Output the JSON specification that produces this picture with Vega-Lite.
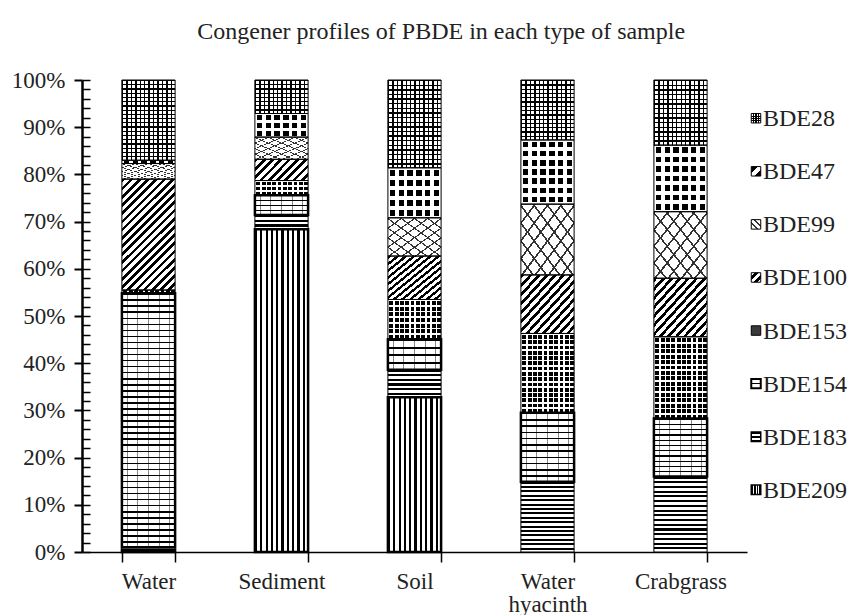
{
"$schema": "https://vega.github.io/schema/vega-lite/v6.json",
"padding": {"left": 11, "top": 20, "right": 0, "bottom": 5},
"title": {"text": "Congener profiles of PBDE in each type of sample", "anchor": "middle", "dx": 12, "font": "Times New Roman, Liberation Serif, Times, serif", "fontSize": 24, "fontWeight": "normal", "color": "#222", "offset": 25},
"spacing": 0,
"datasets": {
"pbde": [
{"sample":"Water","congener":"BDE209","num":209,"value":0.5},
{"sample":"Water","congener":"BDE183","num":183,"value":0.5},
{"sample":"Water","congener":"BDE154","num":154,"value":53.8},
{"sample":"Water","congener":"BDE153","num":153,"value":0.7},
{"sample":"Water","congener":"BDE100","num":100,"value":23.5},
{"sample":"Water","congener":"BDE99","num":99,"value":3.3},
{"sample":"Water","congener":"BDE47","num":47,"value":0.7},
{"sample":"Water","congener":"BDE28","num":28,"value":17.0},
{"sample":"Sediment","congener":"BDE209","num":209,"value":68.4},
{"sample":"Sediment","congener":"BDE183","num":183,"value":3.0},
{"sample":"Sediment","congener":"BDE154","num":154,"value":4.2},
{"sample":"Sediment","congener":"BDE153","num":153,"value":3.1},
{"sample":"Sediment","congener":"BDE100","num":100,"value":4.5},
{"sample":"Sediment","congener":"BDE99","num":99,"value":4.7},
{"sample":"Sediment","congener":"BDE47","num":47,"value":5.0},
{"sample":"Sediment","congener":"BDE28","num":28,"value":7.1},
{"sample":"Soil","congener":"BDE209","num":209,"value":32.8},
{"sample":"Soil","congener":"BDE183","num":183,"value":5.8},
{"sample":"Soil","congener":"BDE154","num":154,"value":6.5},
{"sample":"Soil","congener":"BDE153","num":153,"value":8.4},
{"sample":"Soil","congener":"BDE100","num":100,"value":9.2},
{"sample":"Soil","congener":"BDE99","num":99,"value":8.1},
{"sample":"Soil","congener":"BDE47","num":47,"value":10.6},
{"sample":"Soil","congener":"BDE28","num":28,"value":18.6},
{"sample":"Water hyacinth","congener":"BDE209","num":209,"value":0},
{"sample":"Water hyacinth","congener":"BDE183","num":183,"value":14.9},
{"sample":"Water hyacinth","congener":"BDE154","num":154,"value":14.6},
{"sample":"Water hyacinth","congener":"BDE153","num":153,"value":16.8},
{"sample":"Water hyacinth","congener":"BDE100","num":100,"value":12.4},
{"sample":"Water hyacinth","congener":"BDE99","num":99,"value":15.0},
{"sample":"Water hyacinth","congener":"BDE47","num":47,"value":13.6},
{"sample":"Water hyacinth","congener":"BDE28","num":28,"value":12.7},
{"sample":"Crabgrass","congener":"BDE209","num":209,"value":0},
{"sample":"Crabgrass","congener":"BDE183","num":183,"value":16.0},
{"sample":"Crabgrass","congener":"BDE154","num":154,"value":12.3},
{"sample":"Crabgrass","congener":"BDE153","num":153,"value":17.3},
{"sample":"Crabgrass","congener":"BDE100","num":100,"value":12.4},
{"sample":"Crabgrass","congener":"BDE99","num":99,"value":14.1},
{"sample":"Crabgrass","congener":"BDE47","num":47,"value":14.1},
{"sample":"Crabgrass","congener":"BDE28","num":28,"value":13.8}
],
"cong": [
{"congener":"BDE28"},{"congener":"BDE47"},{"congener":"BDE99"},{"congener":"BDE100"},
{"congener":"BDE153"},{"congener":"BDE154"},{"congener":"BDE183"},{"congener":"BDE209"}
]
},
"hconcat": [
{
"width": 665,
"height": 472,
"data": {"name": "pbde"},
"transform": [{"stack": "value", "groupby": ["sample"], "sort": [{"field": "num", "order": "descending"}], "offset": "normalize", "as": ["y0", "y1"]}],
"encoding": {
"x": {"field": "sample", "type": "nominal", "sort": ["Water","Sediment","Soil","Water hyacinth","Crabgrass"],
 "scale": {"paddingInner": 0.6, "paddingOuter": 0.3},
 "axis": {"title": null, "tickBand": "extent", "labelAngle": 0, "labelExpr": "datum.label === 'Water hyacinth' ? ['Water', 'hyacinth'] : datum.label",
  "domainColor": "#000", "domainWidth": 1.5, "tickColor": "#000", "tickWidth": 1.5, "tickSize": 10, "labelPadding": 8,
  "labelFont": "Times New Roman, Liberation Serif, Times, serif", "labelFontSize": 23, "labelColor": "#222", "labelLineHeight": 23}},
"y": {"field": "y0", "type": "quantitative", "scale": {"domain": [0, 1], "nice": false},
 "axis": {"title": null, "values": [0,0.02,0.04,0.06,0.08,0.1,0.12,0.14,0.16,0.18,0.2,0.22,0.24,0.26,0.28,0.3,0.32,0.34,0.36,0.38,0.4,0.42,0.44,0.46,0.48,0.5,0.52,0.54,0.56,0.58,0.6,0.62,0.64,0.66,0.68,0.7,0.72,0.74,0.76,0.78,0.8,0.82,0.84,0.86,0.88,0.9,0.92,0.94,0.96,0.98,1],
  "format": ".0%", "labelExpr": "round(datum.value*100) % 10 === 0 ? datum.label : ''", "labelOverlap": false,
  "labelFont": "Times New Roman, Liberation Serif, Times, serif", "labelFontSize": 23, "labelColor": "#222", "labelPadding": 9,
  "tickSize": 8, "tickWidth": 2, "tickColor": "#000",
  "tickOpacity": {"condition": {"test": "round(datum.value*100) % 10 === 0", "value": 1}, "value": 0},
  "domainColor": "#000", "domainWidth": 2.5,
  "grid": true, "gridColor": "#000", "gridWidth": 1.5, "gridOpacity": 1, "gridDash": [8, 2000]}},
"y2": {"field": "y1"}
},
"layer": [
{"transform": [{"filter": "datum.congener === 'BDE209'"}],
 "mark": {"type": "bar", "fill": {"gradient": "linear", "x1": 0, "y1": 0, "x2": 1, "y2": 0, "stops": [
{"offset":0,"color":"#000"},{"offset":0.04,"color":"#000"},{"offset":0.04,"color":"#fff"},{"offset":0.1,"color":"#fff"},
{"offset":0.1,"color":"#000"},{"offset":0.14,"color":"#000"},{"offset":0.14,"color":"#fff"},{"offset":0.2,"color":"#fff"},
{"offset":0.2,"color":"#000"},{"offset":0.24,"color":"#000"},{"offset":0.24,"color":"#fff"},{"offset":0.3,"color":"#fff"},
{"offset":0.3,"color":"#000"},{"offset":0.34,"color":"#000"},{"offset":0.34,"color":"#fff"},{"offset":0.4,"color":"#fff"},
{"offset":0.4,"color":"#000"},{"offset":0.44,"color":"#000"},{"offset":0.44,"color":"#fff"},{"offset":0.5,"color":"#fff"},
{"offset":0.5,"color":"#000"},{"offset":0.54,"color":"#000"},{"offset":0.54,"color":"#fff"},{"offset":0.6,"color":"#fff"},
{"offset":0.6,"color":"#000"},{"offset":0.64,"color":"#000"},{"offset":0.64,"color":"#fff"},{"offset":0.7,"color":"#fff"},
{"offset":0.7,"color":"#000"},{"offset":0.74,"color":"#000"},{"offset":0.74,"color":"#fff"},{"offset":0.8,"color":"#fff"},
{"offset":0.8,"color":"#000"},{"offset":0.84,"color":"#000"},{"offset":0.84,"color":"#fff"},{"offset":0.9,"color":"#fff"},
{"offset":0.9,"color":"#000"},{"offset":0.94,"color":"#000"},{"offset":0.94,"color":"#fff"},{"offset":1,"color":"#fff"}]}}},
{"transform": [{"filter": "datum.congener === 'BDE183' && (datum.sample === 'Water hyacinth' || datum.sample === 'Crabgrass')"}],
 "mark": {"type": "bar", "fill": {"gradient": "linear", "x1": 0, "y1": 0, "x2": 0, "y2": 1, "stops": [
{"offset":0,"color":"#000"},{"offset":0.028,"color":"#000"},{"offset":0.028,"color":"#fff"},{"offset":0.0625,"color":"#fff"},
{"offset":0.0625,"color":"#000"},{"offset":0.0905,"color":"#000"},{"offset":0.0905,"color":"#fff"},{"offset":0.125,"color":"#fff"},
{"offset":0.125,"color":"#000"},{"offset":0.153,"color":"#000"},{"offset":0.153,"color":"#fff"},{"offset":0.1875,"color":"#fff"},
{"offset":0.1875,"color":"#000"},{"offset":0.2155,"color":"#000"},{"offset":0.2155,"color":"#fff"},{"offset":0.25,"color":"#fff"},
{"offset":0.25,"color":"#000"},{"offset":0.278,"color":"#000"},{"offset":0.278,"color":"#fff"},{"offset":0.3125,"color":"#fff"},
{"offset":0.3125,"color":"#000"},{"offset":0.3405,"color":"#000"},{"offset":0.3405,"color":"#fff"},{"offset":0.375,"color":"#fff"},
{"offset":0.375,"color":"#000"},{"offset":0.403,"color":"#000"},{"offset":0.403,"color":"#fff"},{"offset":0.4375,"color":"#fff"},
{"offset":0.4375,"color":"#000"},{"offset":0.4655,"color":"#000"},{"offset":0.4655,"color":"#fff"},{"offset":0.5,"color":"#fff"},
{"offset":0.5,"color":"#000"},{"offset":0.528,"color":"#000"},{"offset":0.528,"color":"#fff"},{"offset":0.5625,"color":"#fff"},
{"offset":0.5625,"color":"#000"},{"offset":0.5905,"color":"#000"},{"offset":0.5905,"color":"#fff"},{"offset":0.625,"color":"#fff"},
{"offset":0.625,"color":"#000"},{"offset":0.653,"color":"#000"},{"offset":0.653,"color":"#fff"},{"offset":0.6875,"color":"#fff"},
{"offset":0.6875,"color":"#000"},{"offset":0.7155,"color":"#000"},{"offset":0.7155,"color":"#fff"},{"offset":0.75,"color":"#fff"},
{"offset":0.75,"color":"#000"},{"offset":0.778,"color":"#000"},{"offset":0.778,"color":"#fff"},{"offset":0.8125,"color":"#fff"},
{"offset":0.8125,"color":"#000"},{"offset":0.8405,"color":"#000"},{"offset":0.8405,"color":"#fff"},{"offset":0.875,"color":"#fff"},
{"offset":0.875,"color":"#000"},{"offset":0.903,"color":"#000"},{"offset":0.903,"color":"#fff"},{"offset":0.9375,"color":"#fff"},
{"offset":0.9375,"color":"#000"},{"offset":0.9655,"color":"#000"},{"offset":0.9655,"color":"#fff"},{"offset":1,"color":"#fff"}]}}},
{"transform": [{"filter": "datum.congener === 'BDE183' && datum.sample === 'Soil'"}],
 "mark": {"type": "bar", "fill": {"gradient": "linear", "x1": 0, "y1": 0, "x2": 0, "y2": 1, "stops": [
{"offset":0,"color":"#000"},{"offset":0.075,"color":"#000"},{"offset":0.075,"color":"#fff"},{"offset":0.1667,"color":"#fff"},
{"offset":0.1667,"color":"#000"},{"offset":0.2417,"color":"#000"},{"offset":0.2417,"color":"#fff"},{"offset":0.3333,"color":"#fff"},
{"offset":0.3333,"color":"#000"},{"offset":0.4083,"color":"#000"},{"offset":0.4083,"color":"#fff"},{"offset":0.5,"color":"#fff"},
{"offset":0.5,"color":"#000"},{"offset":0.575,"color":"#000"},{"offset":0.575,"color":"#fff"},{"offset":0.6667,"color":"#fff"},
{"offset":0.6667,"color":"#000"},{"offset":0.7417,"color":"#000"},{"offset":0.7417,"color":"#fff"},{"offset":0.8333,"color":"#fff"},
{"offset":0.8333,"color":"#000"},{"offset":0.9083,"color":"#000"},{"offset":0.9083,"color":"#fff"},{"offset":1,"color":"#fff"}]}}},
{"transform": [{"filter": "datum.congener === 'BDE183' && (datum.sample === 'Sediment' || datum.sample === 'Water')"}],
 "mark": {"type": "bar", "fill": {"gradient": "linear", "x1": 0, "y1": 0, "x2": 0, "y2": 1, "stops": [
{"offset":0,"color":"#000"},{"offset":0.15,"color":"#000"},{"offset":0.15,"color":"#fff"},{"offset":0.3333,"color":"#fff"},
{"offset":0.3333,"color":"#000"},{"offset":0.4833,"color":"#000"},{"offset":0.4833,"color":"#fff"},{"offset":0.6667,"color":"#fff"},
{"offset":0.6667,"color":"#000"},{"offset":0.8167,"color":"#000"},{"offset":0.8167,"color":"#fff"},{"offset":1,"color":"#fff"}]}}},
{"transform": [{"filter": "datum.congener === 'BDE154'"}],
 "mark": {"type": "bar", "fill": {"gradient": "linear", "x1": 0, "y1": 0, "x2": 1, "y2": 0, "stops": [
{"offset":0,"color":"#fff"},
{"offset":0.09,"color":"#fff"},{"offset":0.09,"color":"#888"},{"offset":0.11,"color":"#888"},{"offset":0.11,"color":"#fff"},
{"offset":0.29,"color":"#fff"},{"offset":0.29,"color":"#888"},{"offset":0.31,"color":"#888"},{"offset":0.31,"color":"#fff"},
{"offset":0.49,"color":"#fff"},{"offset":0.49,"color":"#888"},{"offset":0.51,"color":"#888"},{"offset":0.51,"color":"#fff"},
{"offset":0.69,"color":"#fff"},{"offset":0.69,"color":"#888"},{"offset":0.71,"color":"#888"},{"offset":0.71,"color":"#fff"},
{"offset":0.89,"color":"#fff"},{"offset":0.89,"color":"#888"},{"offset":0.91,"color":"#888"},{"offset":0.91,"color":"#fff"},
{"offset":1,"color":"#fff"}]}}},
{"transform": [{"filter": "datum.congener === 'BDE154' && datum.sample === 'Water'"}],
 "mark": {"type": "bar", "fill": {"gradient": "linear", "x1": 0, "y1": 0, "x2": 0, "y2": 1, "stops": [
{"offset":0,"color":"#000"},{"offset":0.006,"color":"#000"},{"offset":0.006,"color":"transparent"},{"offset":0.0238,"color":"transparent"},
{"offset":0.0238,"color":"#000"},{"offset":0.0298,"color":"#000"},{"offset":0.0298,"color":"transparent"},{"offset":0.0476,"color":"transparent"},
{"offset":0.0476,"color":"#000"},{"offset":0.0536,"color":"#000"},{"offset":0.0536,"color":"transparent"},{"offset":0.0714,"color":"transparent"},
{"offset":0.0714,"color":"#000"},{"offset":0.0774,"color":"#000"},{"offset":0.0774,"color":"transparent"},{"offset":0.0952,"color":"transparent"},
{"offset":0.0952,"color":"#000"},{"offset":0.1012,"color":"#000"},{"offset":0.1012,"color":"transparent"},{"offset":0.119,"color":"transparent"},
{"offset":0.119,"color":"#000"},{"offset":0.125,"color":"#000"},{"offset":0.125,"color":"transparent"},{"offset":0.1429,"color":"transparent"},
{"offset":0.1429,"color":"#000"},{"offset":0.1489,"color":"#000"},{"offset":0.1489,"color":"transparent"},{"offset":0.1667,"color":"transparent"},
{"offset":0.1667,"color":"#000"},{"offset":0.1727,"color":"#000"},{"offset":0.1727,"color":"transparent"},{"offset":0.1905,"color":"transparent"},
{"offset":0.1905,"color":"#000"},{"offset":0.1965,"color":"#000"},{"offset":0.1965,"color":"transparent"},{"offset":0.2143,"color":"transparent"},
{"offset":0.2143,"color":"#000"},{"offset":0.2203,"color":"#000"},{"offset":0.2203,"color":"transparent"},{"offset":0.2381,"color":"transparent"},
{"offset":0.2381,"color":"#000"},{"offset":0.2441,"color":"#000"},{"offset":0.2441,"color":"transparent"},{"offset":0.2619,"color":"transparent"},
{"offset":0.2619,"color":"#000"},{"offset":0.2679,"color":"#000"},{"offset":0.2679,"color":"transparent"},{"offset":0.2857,"color":"transparent"},
{"offset":0.2857,"color":"#000"},{"offset":0.2917,"color":"#000"},{"offset":0.2917,"color":"transparent"},{"offset":0.3095,"color":"transparent"},
{"offset":0.3095,"color":"#000"},{"offset":0.3155,"color":"#000"},{"offset":0.3155,"color":"transparent"},{"offset":0.3333,"color":"transparent"},
{"offset":0.3333,"color":"#000"},{"offset":0.3393,"color":"#000"},{"offset":0.3393,"color":"transparent"},{"offset":0.3571,"color":"transparent"},
{"offset":0.3571,"color":"#000"},{"offset":0.3631,"color":"#000"},{"offset":0.3631,"color":"transparent"},{"offset":0.381,"color":"transparent"},
{"offset":0.381,"color":"#000"},{"offset":0.387,"color":"#000"},{"offset":0.387,"color":"transparent"},{"offset":0.4048,"color":"transparent"},
{"offset":0.4048,"color":"#000"},{"offset":0.4108,"color":"#000"},{"offset":0.4108,"color":"transparent"},{"offset":0.4286,"color":"transparent"},
{"offset":0.4286,"color":"#000"},{"offset":0.4346,"color":"#000"},{"offset":0.4346,"color":"transparent"},{"offset":0.4524,"color":"transparent"},
{"offset":0.4524,"color":"#000"},{"offset":0.4584,"color":"#000"},{"offset":0.4584,"color":"transparent"},{"offset":0.4762,"color":"transparent"},
{"offset":0.4762,"color":"#000"},{"offset":0.4822,"color":"#000"},{"offset":0.4822,"color":"transparent"},{"offset":0.5,"color":"transparent"},
{"offset":0.5,"color":"#000"},{"offset":0.506,"color":"#000"},{"offset":0.506,"color":"transparent"},{"offset":0.5238,"color":"transparent"},
{"offset":0.5238,"color":"#000"},{"offset":0.5298,"color":"#000"},{"offset":0.5298,"color":"transparent"},{"offset":0.5476,"color":"transparent"},
{"offset":0.5476,"color":"#000"},{"offset":0.5536,"color":"#000"},{"offset":0.5536,"color":"transparent"},{"offset":0.5714,"color":"transparent"},
{"offset":0.5714,"color":"#000"},{"offset":0.5774,"color":"#000"},{"offset":0.5774,"color":"transparent"},{"offset":0.5952,"color":"transparent"},
{"offset":0.5952,"color":"#000"},{"offset":0.6012,"color":"#000"},{"offset":0.6012,"color":"transparent"},{"offset":0.619,"color":"transparent"},
{"offset":0.619,"color":"#000"},{"offset":0.625,"color":"#000"},{"offset":0.625,"color":"transparent"},{"offset":0.6429,"color":"transparent"},
{"offset":0.6429,"color":"#000"},{"offset":0.6489,"color":"#000"},{"offset":0.6489,"color":"transparent"},{"offset":0.6667,"color":"transparent"},
{"offset":0.6667,"color":"#000"},{"offset":0.6727,"color":"#000"},{"offset":0.6727,"color":"transparent"},{"offset":0.6905,"color":"transparent"},
{"offset":0.6905,"color":"#000"},{"offset":0.6965,"color":"#000"},{"offset":0.6965,"color":"transparent"},{"offset":0.7143,"color":"transparent"},
{"offset":0.7143,"color":"#000"},{"offset":0.7203,"color":"#000"},{"offset":0.7203,"color":"transparent"},{"offset":0.7381,"color":"transparent"},
{"offset":0.7381,"color":"#000"},{"offset":0.7441,"color":"#000"},{"offset":0.7441,"color":"transparent"},{"offset":0.7619,"color":"transparent"},
{"offset":0.7619,"color":"#000"},{"offset":0.7679,"color":"#000"},{"offset":0.7679,"color":"transparent"},{"offset":0.7857,"color":"transparent"},
{"offset":0.7857,"color":"#000"},{"offset":0.7917,"color":"#000"},{"offset":0.7917,"color":"transparent"},{"offset":0.8095,"color":"transparent"},
{"offset":0.8095,"color":"#000"},{"offset":0.8155,"color":"#000"},{"offset":0.8155,"color":"transparent"},{"offset":0.8333,"color":"transparent"},
{"offset":0.8333,"color":"#000"},{"offset":0.8393,"color":"#000"},{"offset":0.8393,"color":"transparent"},{"offset":0.8571,"color":"transparent"},
{"offset":0.8571,"color":"#000"},{"offset":0.8631,"color":"#000"},{"offset":0.8631,"color":"transparent"},{"offset":0.881,"color":"transparent"},
{"offset":0.881,"color":"#000"},{"offset":0.887,"color":"#000"},{"offset":0.887,"color":"transparent"},{"offset":0.9048,"color":"transparent"},
{"offset":0.9048,"color":"#000"},{"offset":0.9108,"color":"#000"},{"offset":0.9108,"color":"transparent"},{"offset":0.9286,"color":"transparent"},
{"offset":0.9286,"color":"#000"},{"offset":0.9346,"color":"#000"},{"offset":0.9346,"color":"transparent"},{"offset":0.9524,"color":"transparent"},
{"offset":0.9524,"color":"#000"},{"offset":0.9584,"color":"#000"},{"offset":0.9584,"color":"transparent"},{"offset":0.9762,"color":"transparent"},
{"offset":0.9762,"color":"#000"},{"offset":0.9822,"color":"#000"},{"offset":0.9822,"color":"transparent"},{"offset":1,"color":"transparent"}]}}},
{"transform": [{"filter": "datum.congener === 'BDE154' && (datum.sample === 'Water hyacinth' || datum.sample === 'Crabgrass')"}],
 "mark": {"type": "bar", "fill": {"gradient": "linear", "x1": 0, "y1": 0, "x2": 0, "y2": 1, "stops": [
{"offset":0,"color":"#000"},{"offset":0.022,"color":"#000"},{"offset":0.022,"color":"transparent"},{"offset":0.0909,"color":"transparent"},
{"offset":0.0909,"color":"#000"},{"offset":0.1129,"color":"#000"},{"offset":0.1129,"color":"transparent"},{"offset":0.1818,"color":"transparent"},
{"offset":0.1818,"color":"#000"},{"offset":0.2038,"color":"#000"},{"offset":0.2038,"color":"transparent"},{"offset":0.2727,"color":"transparent"},
{"offset":0.2727,"color":"#000"},{"offset":0.2947,"color":"#000"},{"offset":0.2947,"color":"transparent"},{"offset":0.3636,"color":"transparent"},
{"offset":0.3636,"color":"#000"},{"offset":0.3856,"color":"#000"},{"offset":0.3856,"color":"transparent"},{"offset":0.4545,"color":"transparent"},
{"offset":0.4545,"color":"#000"},{"offset":0.4765,"color":"#000"},{"offset":0.4765,"color":"transparent"},{"offset":0.5455,"color":"transparent"},
{"offset":0.5455,"color":"#000"},{"offset":0.5675,"color":"#000"},{"offset":0.5675,"color":"transparent"},{"offset":0.6364,"color":"transparent"},
{"offset":0.6364,"color":"#000"},{"offset":0.6584,"color":"#000"},{"offset":0.6584,"color":"transparent"},{"offset":0.7273,"color":"transparent"},
{"offset":0.7273,"color":"#000"},{"offset":0.7493,"color":"#000"},{"offset":0.7493,"color":"transparent"},{"offset":0.8182,"color":"transparent"},
{"offset":0.8182,"color":"#000"},{"offset":0.8402,"color":"#000"},{"offset":0.8402,"color":"transparent"},{"offset":0.9091,"color":"transparent"},
{"offset":0.9091,"color":"#000"},{"offset":0.9311,"color":"#000"},{"offset":0.9311,"color":"transparent"},{"offset":1,"color":"transparent"}]}}},
{"transform": [{"filter": "datum.congener === 'BDE154' && (datum.sample === 'Sediment' || datum.sample === 'Soil')"}],
 "mark": {"type": "bar", "fill": {"gradient": "linear", "x1": 0, "y1": 0, "x2": 0, "y2": 1, "stops": [
{"offset":0,"color":"#000"},{"offset":0.06,"color":"#000"},{"offset":0.06,"color":"transparent"},{"offset":0.25,"color":"transparent"},
{"offset":0.25,"color":"#000"},{"offset":0.31,"color":"#000"},{"offset":0.31,"color":"transparent"},{"offset":0.5,"color":"transparent"},
{"offset":0.5,"color":"#000"},{"offset":0.56,"color":"#000"},{"offset":0.56,"color":"transparent"},{"offset":0.75,"color":"transparent"},
{"offset":0.75,"color":"#000"},{"offset":0.81,"color":"#000"},{"offset":0.81,"color":"transparent"},{"offset":1,"color":"transparent"}]}}},
{"transform": [{"filter": "datum.congener === 'BDE153'"}],
 "mark": {"type": "bar", "fill": {"gradient": "linear", "x1": 0, "y1": 0, "x2": 1, "y2": 0, "stops": [
{"offset":0,"color":"#fff"},{"offset":0.028,"color":"#fff"},{"offset":0.028,"color":"#000"},{"offset":0.1,"color":"#000"},
{"offset":0.1,"color":"#fff"},{"offset":0.128,"color":"#fff"},{"offset":0.128,"color":"#000"},{"offset":0.2,"color":"#000"},
{"offset":0.2,"color":"#fff"},{"offset":0.228,"color":"#fff"},{"offset":0.228,"color":"#000"},{"offset":0.3,"color":"#000"},
{"offset":0.3,"color":"#fff"},{"offset":0.328,"color":"#fff"},{"offset":0.328,"color":"#000"},{"offset":0.4,"color":"#000"},
{"offset":0.4,"color":"#fff"},{"offset":0.428,"color":"#fff"},{"offset":0.428,"color":"#000"},{"offset":0.5,"color":"#000"},
{"offset":0.5,"color":"#fff"},{"offset":0.528,"color":"#fff"},{"offset":0.528,"color":"#000"},{"offset":0.6,"color":"#000"},
{"offset":0.6,"color":"#fff"},{"offset":0.628,"color":"#fff"},{"offset":0.628,"color":"#000"},{"offset":0.7,"color":"#000"},
{"offset":0.7,"color":"#fff"},{"offset":0.728,"color":"#fff"},{"offset":0.728,"color":"#000"},{"offset":0.8,"color":"#000"},
{"offset":0.8,"color":"#fff"},{"offset":0.828,"color":"#fff"},{"offset":0.828,"color":"#000"},{"offset":0.9,"color":"#000"},
{"offset":0.9,"color":"#fff"},{"offset":0.928,"color":"#fff"},{"offset":0.928,"color":"#000"},{"offset":1,"color":"#000"}]}}},
{"transform": [{"filter": "datum.congener === 'BDE153' && (datum.sample === 'Water hyacinth' || datum.sample === 'Crabgrass')"}],
 "mark": {"type": "bar", "fill": {"gradient": "linear", "x1": 0, "y1": 0, "x2": 0, "y2": 1, "stops": [
{"offset":0,"color":"#fff"},{"offset":0.0187,"color":"#fff"},{"offset":0.0187,"color":"transparent"},{"offset":0.0667,"color":"transparent"},
{"offset":0.0667,"color":"#fff"},{"offset":0.0854,"color":"#fff"},{"offset":0.0854,"color":"transparent"},{"offset":0.1333,"color":"transparent"},
{"offset":0.1333,"color":"#fff"},{"offset":0.152,"color":"#fff"},{"offset":0.152,"color":"transparent"},{"offset":0.2,"color":"transparent"},
{"offset":0.2,"color":"#fff"},{"offset":0.2187,"color":"#fff"},{"offset":0.2187,"color":"transparent"},{"offset":0.2667,"color":"transparent"},
{"offset":0.2667,"color":"#fff"},{"offset":0.2854,"color":"#fff"},{"offset":0.2854,"color":"transparent"},{"offset":0.3333,"color":"transparent"},
{"offset":0.3333,"color":"#fff"},{"offset":0.352,"color":"#fff"},{"offset":0.352,"color":"transparent"},{"offset":0.4,"color":"transparent"},
{"offset":0.4,"color":"#fff"},{"offset":0.4187,"color":"#fff"},{"offset":0.4187,"color":"transparent"},{"offset":0.4667,"color":"transparent"},
{"offset":0.4667,"color":"#fff"},{"offset":0.4854,"color":"#fff"},{"offset":0.4854,"color":"transparent"},{"offset":0.5333,"color":"transparent"},
{"offset":0.5333,"color":"#fff"},{"offset":0.552,"color":"#fff"},{"offset":0.552,"color":"transparent"},{"offset":0.6,"color":"transparent"},
{"offset":0.6,"color":"#fff"},{"offset":0.6187,"color":"#fff"},{"offset":0.6187,"color":"transparent"},{"offset":0.6667,"color":"transparent"},
{"offset":0.6667,"color":"#fff"},{"offset":0.6854,"color":"#fff"},{"offset":0.6854,"color":"transparent"},{"offset":0.7333,"color":"transparent"},
{"offset":0.7333,"color":"#fff"},{"offset":0.752,"color":"#fff"},{"offset":0.752,"color":"transparent"},{"offset":0.8,"color":"transparent"},
{"offset":0.8,"color":"#fff"},{"offset":0.8187,"color":"#fff"},{"offset":0.8187,"color":"transparent"},{"offset":0.8667,"color":"transparent"},
{"offset":0.8667,"color":"#fff"},{"offset":0.8854,"color":"#fff"},{"offset":0.8854,"color":"transparent"},{"offset":0.9333,"color":"transparent"},
{"offset":0.9333,"color":"#fff"},{"offset":0.952,"color":"#fff"},{"offset":0.952,"color":"transparent"},{"offset":1,"color":"transparent"}]}}},
{"transform": [{"filter": "datum.congener === 'BDE153' && datum.sample === 'Soil'"}],
 "mark": {"type": "bar", "fill": {"gradient": "linear", "x1": 0, "y1": 0, "x2": 0, "y2": 1, "stops": [
{"offset":0,"color":"#fff"},{"offset":0.04,"color":"#fff"},{"offset":0.04,"color":"transparent"},{"offset":0.1429,"color":"transparent"},
{"offset":0.1429,"color":"#fff"},{"offset":0.1829,"color":"#fff"},{"offset":0.1829,"color":"transparent"},{"offset":0.2857,"color":"transparent"},
{"offset":0.2857,"color":"#fff"},{"offset":0.3257,"color":"#fff"},{"offset":0.3257,"color":"transparent"},{"offset":0.4286,"color":"transparent"},
{"offset":0.4286,"color":"#fff"},{"offset":0.4686,"color":"#fff"},{"offset":0.4686,"color":"transparent"},{"offset":0.5714,"color":"transparent"},
{"offset":0.5714,"color":"#fff"},{"offset":0.6114,"color":"#fff"},{"offset":0.6114,"color":"transparent"},{"offset":0.7143,"color":"transparent"},
{"offset":0.7143,"color":"#fff"},{"offset":0.7543,"color":"#fff"},{"offset":0.7543,"color":"transparent"},{"offset":0.8571,"color":"transparent"},
{"offset":0.8571,"color":"#fff"},{"offset":0.8971,"color":"#fff"},{"offset":0.8971,"color":"transparent"},{"offset":1,"color":"transparent"}]}}},
{"transform": [{"filter": "datum.congener === 'BDE153' && datum.sample === 'Sediment'"}],
 "mark": {"type": "bar", "fill": {"gradient": "linear", "x1": 0, "y1": 0, "x2": 0, "y2": 1, "stops": [
{"offset":0,"color":"#fff"},{"offset":0.0933,"color":"#fff"},{"offset":0.0933,"color":"transparent"},{"offset":0.3333,"color":"transparent"},
{"offset":0.3333,"color":"#fff"},{"offset":0.4267,"color":"#fff"},{"offset":0.4267,"color":"transparent"},{"offset":0.6667,"color":"transparent"},
{"offset":0.6667,"color":"#fff"},{"offset":0.76,"color":"#fff"},{"offset":0.76,"color":"transparent"},{"offset":1,"color":"transparent"}]}}},
{"transform": [{"filter": "datum.congener === 'BDE100' && datum.sample === 'Water'"}],
 "mark": {"type": "bar", "fill": {"gradient": "linear", "x1": 0, "y1": 0, "x2": 0.575, "y2": 1.203, "stops": [
{"offset":0,"color":"#000"},{"offset":0.0225,"color":"#000"},{"offset":0.0225,"color":"#fff"},{"offset":0.05,"color":"#fff"},
{"offset":0.05,"color":"#000"},{"offset":0.0725,"color":"#000"},{"offset":0.0725,"color":"#fff"},{"offset":0.1,"color":"#fff"},
{"offset":0.1,"color":"#000"},{"offset":0.1225,"color":"#000"},{"offset":0.1225,"color":"#fff"},{"offset":0.15,"color":"#fff"},
{"offset":0.15,"color":"#000"},{"offset":0.1725,"color":"#000"},{"offset":0.1725,"color":"#fff"},{"offset":0.2,"color":"#fff"},
{"offset":0.2,"color":"#000"},{"offset":0.2225,"color":"#000"},{"offset":0.2225,"color":"#fff"},{"offset":0.25,"color":"#fff"},
{"offset":0.25,"color":"#000"},{"offset":0.2725,"color":"#000"},{"offset":0.2725,"color":"#fff"},{"offset":0.3,"color":"#fff"},
{"offset":0.3,"color":"#000"},{"offset":0.3225,"color":"#000"},{"offset":0.3225,"color":"#fff"},{"offset":0.35,"color":"#fff"},
{"offset":0.35,"color":"#000"},{"offset":0.3725,"color":"#000"},{"offset":0.3725,"color":"#fff"},{"offset":0.4,"color":"#fff"},
{"offset":0.4,"color":"#000"},{"offset":0.4225,"color":"#000"},{"offset":0.4225,"color":"#fff"},{"offset":0.45,"color":"#fff"},
{"offset":0.45,"color":"#000"},{"offset":0.4725,"color":"#000"},{"offset":0.4725,"color":"#fff"},{"offset":0.5,"color":"#fff"},
{"offset":0.5,"color":"#000"},{"offset":0.5225,"color":"#000"},{"offset":0.5225,"color":"#fff"},{"offset":0.55,"color":"#fff"},
{"offset":0.55,"color":"#000"},{"offset":0.5725,"color":"#000"},{"offset":0.5725,"color":"#fff"},{"offset":0.6,"color":"#fff"},
{"offset":0.6,"color":"#000"},{"offset":0.6225,"color":"#000"},{"offset":0.6225,"color":"#fff"},{"offset":0.65,"color":"#fff"},
{"offset":0.65,"color":"#000"},{"offset":0.6725,"color":"#000"},{"offset":0.6725,"color":"#fff"},{"offset":0.7,"color":"#fff"},
{"offset":0.7,"color":"#000"},{"offset":0.7225,"color":"#000"},{"offset":0.7225,"color":"#fff"},{"offset":0.75,"color":"#fff"},
{"offset":0.75,"color":"#000"},{"offset":0.7725,"color":"#000"},{"offset":0.7725,"color":"#fff"},{"offset":0.8,"color":"#fff"},
{"offset":0.8,"color":"#000"},{"offset":0.8225,"color":"#000"},{"offset":0.8225,"color":"#fff"},{"offset":0.85,"color":"#fff"},
{"offset":0.85,"color":"#000"},{"offset":0.8725,"color":"#000"},{"offset":0.8725,"color":"#fff"},{"offset":0.9,"color":"#fff"},
{"offset":0.9,"color":"#000"},{"offset":0.9225,"color":"#000"},{"offset":0.9225,"color":"#fff"},{"offset":0.95,"color":"#fff"},
{"offset":0.95,"color":"#000"},{"offset":0.9725,"color":"#000"},{"offset":0.9725,"color":"#fff"},{"offset":1,"color":"#fff"}]}}},
{"transform": [{"filter": "datum.congener === 'BDE100' && datum.sample === 'Sediment'"}],
 "mark": {"type": "bar", "fill": {"gradient": "linear", "x1": 0, "y1": 0, "x2": 1.207, "y2": 0.478, "stops": [
{"offset":0,"color":"#000"},{"offset":0.05,"color":"#000"},{"offset":0.05,"color":"#fff"},{"offset":0.1111,"color":"#fff"},
{"offset":0.1111,"color":"#000"},{"offset":0.1611,"color":"#000"},{"offset":0.1611,"color":"#fff"},{"offset":0.2222,"color":"#fff"},
{"offset":0.2222,"color":"#000"},{"offset":0.2722,"color":"#000"},{"offset":0.2722,"color":"#fff"},{"offset":0.3333,"color":"#fff"},
{"offset":0.3333,"color":"#000"},{"offset":0.3833,"color":"#000"},{"offset":0.3833,"color":"#fff"},{"offset":0.4444,"color":"#fff"},
{"offset":0.4444,"color":"#000"},{"offset":0.4944,"color":"#000"},{"offset":0.4944,"color":"#fff"},{"offset":0.5556,"color":"#fff"},
{"offset":0.5556,"color":"#000"},{"offset":0.6056,"color":"#000"},{"offset":0.6056,"color":"#fff"},{"offset":0.6667,"color":"#fff"},
{"offset":0.6667,"color":"#000"},{"offset":0.7167,"color":"#000"},{"offset":0.7167,"color":"#fff"},{"offset":0.7778,"color":"#fff"},
{"offset":0.7778,"color":"#000"},{"offset":0.8278,"color":"#000"},{"offset":0.8278,"color":"#fff"},{"offset":0.8889,"color":"#fff"},
{"offset":0.8889,"color":"#000"},{"offset":0.9389,"color":"#000"},{"offset":0.9389,"color":"#fff"},{"offset":1,"color":"#fff"}]}}},
{"transform": [{"filter": "datum.congener === 'BDE100' && (datum.sample === 'Soil' || datum.sample === 'Water hyacinth' || datum.sample === 'Crabgrass')"}],
 "mark": {"type": "bar", "fill": {"gradient": "linear", "x1": 0, "y1": 0, "x2": 1, "y2": 1, "stops": [
{"offset":0,"color":"#000"},{"offset":0.0346,"color":"#000"},{"offset":0.0346,"color":"#fff"},{"offset":0.0769,"color":"#fff"},
{"offset":0.0769,"color":"#000"},{"offset":0.1115,"color":"#000"},{"offset":0.1115,"color":"#fff"},{"offset":0.1538,"color":"#fff"},
{"offset":0.1538,"color":"#000"},{"offset":0.1884,"color":"#000"},{"offset":0.1884,"color":"#fff"},{"offset":0.2308,"color":"#fff"},
{"offset":0.2308,"color":"#000"},{"offset":0.2654,"color":"#000"},{"offset":0.2654,"color":"#fff"},{"offset":0.3077,"color":"#fff"},
{"offset":0.3077,"color":"#000"},{"offset":0.3423,"color":"#000"},{"offset":0.3423,"color":"#fff"},{"offset":0.3846,"color":"#fff"},
{"offset":0.3846,"color":"#000"},{"offset":0.4192,"color":"#000"},{"offset":0.4192,"color":"#fff"},{"offset":0.4615,"color":"#fff"},
{"offset":0.4615,"color":"#000"},{"offset":0.4961,"color":"#000"},{"offset":0.4961,"color":"#fff"},{"offset":0.5385,"color":"#fff"},
{"offset":0.5385,"color":"#000"},{"offset":0.5731,"color":"#000"},{"offset":0.5731,"color":"#fff"},{"offset":0.6154,"color":"#fff"},
{"offset":0.6154,"color":"#000"},{"offset":0.65,"color":"#000"},{"offset":0.65,"color":"#fff"},{"offset":0.6923,"color":"#fff"},
{"offset":0.6923,"color":"#000"},{"offset":0.7269,"color":"#000"},{"offset":0.7269,"color":"#fff"},{"offset":0.7692,"color":"#fff"},
{"offset":0.7692,"color":"#000"},{"offset":0.8038,"color":"#000"},{"offset":0.8038,"color":"#fff"},{"offset":0.8462,"color":"#fff"},
{"offset":0.8462,"color":"#000"},{"offset":0.8808,"color":"#000"},{"offset":0.8808,"color":"#fff"},{"offset":0.9231,"color":"#fff"},
{"offset":0.9231,"color":"#000"},{"offset":0.9577,"color":"#000"},{"offset":0.9577,"color":"#fff"},{"offset":1,"color":"#fff"}]}}},
{"transform": [{"filter": "datum.congener === 'BDE99'"}],
 "mark": {"type": "bar", "fill": {"gradient": "linear", "x1": 1, "y1": 0, "x2": 0, "y2": 1, "stops": [
{"offset":0,"color":"#333"},{"offset":0.019,"color":"#333"},{"offset":0.019,"color":"#fff"},{"offset":0.125,"color":"#fff"},
{"offset":0.125,"color":"#333"},{"offset":0.144,"color":"#333"},{"offset":0.144,"color":"#fff"},{"offset":0.25,"color":"#fff"},
{"offset":0.25,"color":"#333"},{"offset":0.269,"color":"#333"},{"offset":0.269,"color":"#fff"},{"offset":0.375,"color":"#fff"},
{"offset":0.375,"color":"#333"},{"offset":0.394,"color":"#333"},{"offset":0.394,"color":"#fff"},{"offset":0.5,"color":"#fff"},
{"offset":0.5,"color":"#333"},{"offset":0.519,"color":"#333"},{"offset":0.519,"color":"#fff"},{"offset":0.625,"color":"#fff"},
{"offset":0.625,"color":"#333"},{"offset":0.644,"color":"#333"},{"offset":0.644,"color":"#fff"},{"offset":0.75,"color":"#fff"},
{"offset":0.75,"color":"#333"},{"offset":0.769,"color":"#333"},{"offset":0.769,"color":"#fff"},{"offset":0.875,"color":"#fff"},
{"offset":0.875,"color":"#333"},{"offset":0.894,"color":"#333"},{"offset":0.894,"color":"#fff"},{"offset":1,"color":"#fff"}]}}},
{"transform": [{"filter": "datum.congener === 'BDE99'"}],
 "mark": {"type": "bar", "fill": {"gradient": "linear", "x1": 0, "y1": 0, "x2": 1, "y2": 1, "stops": [
{"offset":0,"color":"#333"},{"offset":0.019,"color":"#333"},{"offset":0.019,"color":"transparent"},{"offset":0.125,"color":"transparent"},
{"offset":0.125,"color":"#333"},{"offset":0.144,"color":"#333"},{"offset":0.144,"color":"transparent"},{"offset":0.25,"color":"transparent"},
{"offset":0.25,"color":"#333"},{"offset":0.269,"color":"#333"},{"offset":0.269,"color":"transparent"},{"offset":0.375,"color":"transparent"},
{"offset":0.375,"color":"#333"},{"offset":0.394,"color":"#333"},{"offset":0.394,"color":"transparent"},{"offset":0.5,"color":"transparent"},
{"offset":0.5,"color":"#333"},{"offset":0.519,"color":"#333"},{"offset":0.519,"color":"transparent"},{"offset":0.625,"color":"transparent"},
{"offset":0.625,"color":"#333"},{"offset":0.644,"color":"#333"},{"offset":0.644,"color":"transparent"},{"offset":0.75,"color":"transparent"},
{"offset":0.75,"color":"#333"},{"offset":0.769,"color":"#333"},{"offset":0.769,"color":"transparent"},{"offset":0.875,"color":"transparent"},
{"offset":0.875,"color":"#333"},{"offset":0.894,"color":"#333"},{"offset":0.894,"color":"transparent"},{"offset":1,"color":"transparent"}]}}},
{"transform": [{"filter": "datum.congener === 'BDE47'"}],
 "mark": {"type": "bar", "fill": {"gradient": "linear", "x1": 0, "y1": 0, "x2": 1, "y2": 0, "stops": [
{"offset":0,"color":"#fff"},
{"offset":0.0333,"color":"#fff"},{"offset":0.0333,"color":"#000"},{"offset":0.1333,"color":"#000"},{"offset":0.1333,"color":"#fff"},
{"offset":0.2,"color":"#fff"},{"offset":0.2,"color":"#000"},{"offset":0.3,"color":"#000"},{"offset":0.3,"color":"#fff"},
{"offset":0.3667,"color":"#fff"},{"offset":0.3667,"color":"#000"},{"offset":0.4667,"color":"#000"},{"offset":0.4667,"color":"#fff"},
{"offset":0.5333,"color":"#fff"},{"offset":0.5333,"color":"#000"},{"offset":0.6333,"color":"#000"},{"offset":0.6333,"color":"#fff"},
{"offset":0.7,"color":"#fff"},{"offset":0.7,"color":"#000"},{"offset":0.8,"color":"#000"},{"offset":0.8,"color":"#fff"},
{"offset":0.8667,"color":"#fff"},{"offset":0.8667,"color":"#000"},{"offset":0.9667,"color":"#000"},{"offset":0.9667,"color":"#fff"},
{"offset":1,"color":"#fff"}]}}},
{"transform": [{"filter": "datum.congener === 'BDE47' && (datum.sample === 'Water hyacinth' || datum.sample === 'Crabgrass')"}],
 "mark": {"type": "bar", "fill": {"gradient": "linear", "x1": 0, "y1": 0, "x2": 0, "y2": 1, "stops": [
{"offset":0,"color":"#fff"},
{"offset":0.0286,"color":"#fff"},{"offset":0.0286,"color":"transparent"},{"offset":0.1143,"color":"transparent"},{"offset":0.1143,"color":"#fff"},
{"offset":0.1714,"color":"#fff"},{"offset":0.1714,"color":"transparent"},{"offset":0.2571,"color":"transparent"},{"offset":0.2571,"color":"#fff"},
{"offset":0.3143,"color":"#fff"},{"offset":0.3143,"color":"transparent"},{"offset":0.4,"color":"transparent"},{"offset":0.4,"color":"#fff"},
{"offset":0.4571,"color":"#fff"},{"offset":0.4571,"color":"transparent"},{"offset":0.5429,"color":"transparent"},{"offset":0.5429,"color":"#fff"},
{"offset":0.6,"color":"#fff"},{"offset":0.6,"color":"transparent"},{"offset":0.6857,"color":"transparent"},{"offset":0.6857,"color":"#fff"},
{"offset":0.7429,"color":"#fff"},{"offset":0.7429,"color":"transparent"},{"offset":0.8286,"color":"transparent"},{"offset":0.8286,"color":"#fff"},
{"offset":0.8857,"color":"#fff"},{"offset":0.8857,"color":"transparent"},{"offset":0.9714,"color":"transparent"},{"offset":0.9714,"color":"#fff"},
{"offset":1,"color":"#fff"}]}}},
{"transform": [{"filter": "datum.congener === 'BDE47' && datum.sample === 'Soil'"}],
 "mark": {"type": "bar", "fill": {"gradient": "linear", "x1": 0, "y1": 0, "x2": 0, "y2": 1, "stops": [
{"offset":0,"color":"#fff"},
{"offset":0.04,"color":"#fff"},{"offset":0.04,"color":"transparent"},{"offset":0.16,"color":"transparent"},{"offset":0.16,"color":"#fff"},
{"offset":0.24,"color":"#fff"},{"offset":0.24,"color":"transparent"},{"offset":0.36,"color":"transparent"},{"offset":0.36,"color":"#fff"},
{"offset":0.44,"color":"#fff"},{"offset":0.44,"color":"transparent"},{"offset":0.56,"color":"transparent"},{"offset":0.56,"color":"#fff"},
{"offset":0.64,"color":"#fff"},{"offset":0.64,"color":"transparent"},{"offset":0.76,"color":"transparent"},{"offset":0.76,"color":"#fff"},
{"offset":0.84,"color":"#fff"},{"offset":0.84,"color":"transparent"},{"offset":0.96,"color":"transparent"},{"offset":0.96,"color":"#fff"},
{"offset":1,"color":"#fff"}]}}},
{"transform": [{"filter": "datum.congener === 'BDE47' && datum.sample === 'Sediment'"}],
 "mark": {"type": "bar", "fill": {"gradient": "linear", "x1": 0, "y1": 0, "x2": 0, "y2": 1, "stops": [
{"offset":0,"color":"#fff"},
{"offset":0.0667,"color":"#fff"},{"offset":0.0667,"color":"transparent"},{"offset":0.2667,"color":"transparent"},{"offset":0.2667,"color":"#fff"},
{"offset":0.4,"color":"#fff"},{"offset":0.4,"color":"transparent"},{"offset":0.6,"color":"transparent"},{"offset":0.6,"color":"#fff"},
{"offset":0.7333,"color":"#fff"},{"offset":0.7333,"color":"transparent"},{"offset":0.9333,"color":"transparent"},{"offset":0.9333,"color":"#fff"},
{"offset":1,"color":"#fff"}]}}},
{"transform": [{"filter": "datum.congener === 'BDE28'"}],
 "mark": {"type": "bar", "fill": {"gradient": "linear", "x1": 0, "y1": 0, "x2": 1, "y2": 0, "stops": [
{"offset":0,"color":"#000"},{"offset":0.025,"color":"#000"},{"offset":0.025,"color":"#fff"},{"offset":0.0833,"color":"#fff"},
{"offset":0.0833,"color":"#000"},{"offset":0.1083,"color":"#000"},{"offset":0.1083,"color":"#fff"},{"offset":0.1667,"color":"#fff"},
{"offset":0.1667,"color":"#000"},{"offset":0.1917,"color":"#000"},{"offset":0.1917,"color":"#fff"},{"offset":0.25,"color":"#fff"},
{"offset":0.25,"color":"#000"},{"offset":0.275,"color":"#000"},{"offset":0.275,"color":"#fff"},{"offset":0.3333,"color":"#fff"},
{"offset":0.3333,"color":"#000"},{"offset":0.3583,"color":"#000"},{"offset":0.3583,"color":"#fff"},{"offset":0.4167,"color":"#fff"},
{"offset":0.4167,"color":"#000"},{"offset":0.4417,"color":"#000"},{"offset":0.4417,"color":"#fff"},{"offset":0.5,"color":"#fff"},
{"offset":0.5,"color":"#000"},{"offset":0.525,"color":"#000"},{"offset":0.525,"color":"#fff"},{"offset":0.5833,"color":"#fff"},
{"offset":0.5833,"color":"#000"},{"offset":0.6083,"color":"#000"},{"offset":0.6083,"color":"#fff"},{"offset":0.6667,"color":"#fff"},
{"offset":0.6667,"color":"#000"},{"offset":0.6917,"color":"#000"},{"offset":0.6917,"color":"#fff"},{"offset":0.75,"color":"#fff"},
{"offset":0.75,"color":"#000"},{"offset":0.775,"color":"#000"},{"offset":0.775,"color":"#fff"},{"offset":0.8333,"color":"#fff"},
{"offset":0.8333,"color":"#000"},{"offset":0.8583,"color":"#000"},{"offset":0.8583,"color":"#fff"},{"offset":0.9167,"color":"#fff"},
{"offset":0.9167,"color":"#000"},{"offset":0.9417,"color":"#000"},{"offset":0.9417,"color":"#fff"},{"offset":1,"color":"#fff"}]}}},
{"transform": [{"filter": "datum.congener === 'BDE28' && (datum.sample === 'Water' || datum.sample === 'Soil')"}],
 "mark": {"type": "bar", "fill": {"gradient": "linear", "x1": 0, "y1": 0, "x2": 0, "y2": 1, "stops": [
{"offset":0,"color":"#000"},{"offset":0.0158,"color":"#000"},{"offset":0.0158,"color":"transparent"},{"offset":0.0526,"color":"transparent"},
{"offset":0.0526,"color":"#000"},{"offset":0.0684,"color":"#000"},{"offset":0.0684,"color":"transparent"},{"offset":0.1053,"color":"transparent"},
{"offset":0.1053,"color":"#000"},{"offset":0.1211,"color":"#000"},{"offset":0.1211,"color":"transparent"},{"offset":0.1579,"color":"transparent"},
{"offset":0.1579,"color":"#000"},{"offset":0.1737,"color":"#000"},{"offset":0.1737,"color":"transparent"},{"offset":0.2105,"color":"transparent"},
{"offset":0.2105,"color":"#000"},{"offset":0.2263,"color":"#000"},{"offset":0.2263,"color":"transparent"},{"offset":0.2632,"color":"transparent"},
{"offset":0.2632,"color":"#000"},{"offset":0.279,"color":"#000"},{"offset":0.279,"color":"transparent"},{"offset":0.3158,"color":"transparent"},
{"offset":0.3158,"color":"#000"},{"offset":0.3316,"color":"#000"},{"offset":0.3316,"color":"transparent"},{"offset":0.3684,"color":"transparent"},
{"offset":0.3684,"color":"#000"},{"offset":0.3842,"color":"#000"},{"offset":0.3842,"color":"transparent"},{"offset":0.4211,"color":"transparent"},
{"offset":0.4211,"color":"#000"},{"offset":0.4369,"color":"#000"},{"offset":0.4369,"color":"transparent"},{"offset":0.4737,"color":"transparent"},
{"offset":0.4737,"color":"#000"},{"offset":0.4895,"color":"#000"},{"offset":0.4895,"color":"transparent"},{"offset":0.5263,"color":"transparent"},
{"offset":0.5263,"color":"#000"},{"offset":0.5421,"color":"#000"},{"offset":0.5421,"color":"transparent"},{"offset":0.5789,"color":"transparent"},
{"offset":0.5789,"color":"#000"},{"offset":0.5947,"color":"#000"},{"offset":0.5947,"color":"transparent"},{"offset":0.6316,"color":"transparent"},
{"offset":0.6316,"color":"#000"},{"offset":0.6474,"color":"#000"},{"offset":0.6474,"color":"transparent"},{"offset":0.6842,"color":"transparent"},
{"offset":0.6842,"color":"#000"},{"offset":0.7,"color":"#000"},{"offset":0.7,"color":"transparent"},{"offset":0.7368,"color":"transparent"},
{"offset":0.7368,"color":"#000"},{"offset":0.7526,"color":"#000"},{"offset":0.7526,"color":"transparent"},{"offset":0.7895,"color":"transparent"},
{"offset":0.7895,"color":"#000"},{"offset":0.8053,"color":"#000"},{"offset":0.8053,"color":"transparent"},{"offset":0.8421,"color":"transparent"},
{"offset":0.8421,"color":"#000"},{"offset":0.8579,"color":"#000"},{"offset":0.8579,"color":"transparent"},{"offset":0.8947,"color":"transparent"},
{"offset":0.8947,"color":"#000"},{"offset":0.9105,"color":"#000"},{"offset":0.9105,"color":"transparent"},{"offset":0.9474,"color":"transparent"},
{"offset":0.9474,"color":"#000"},{"offset":0.9632,"color":"#000"},{"offset":0.9632,"color":"transparent"},{"offset":1,"color":"transparent"}]}}},
{"transform": [{"filter": "datum.congener === 'BDE28' && (datum.sample === 'Water hyacinth' || datum.sample === 'Crabgrass')"}],
 "mark": {"type": "bar", "fill": {"gradient": "linear", "x1": 0, "y1": 0, "x2": 0, "y2": 1, "stops": [
{"offset":0,"color":"#000"},{"offset":0.0214,"color":"#000"},{"offset":0.0214,"color":"transparent"},{"offset":0.0714,"color":"transparent"},
{"offset":0.0714,"color":"#000"},{"offset":0.0928,"color":"#000"},{"offset":0.0928,"color":"transparent"},{"offset":0.1429,"color":"transparent"},
{"offset":0.1429,"color":"#000"},{"offset":0.1643,"color":"#000"},{"offset":0.1643,"color":"transparent"},{"offset":0.2143,"color":"transparent"},
{"offset":0.2143,"color":"#000"},{"offset":0.2357,"color":"#000"},{"offset":0.2357,"color":"transparent"},{"offset":0.2857,"color":"transparent"},
{"offset":0.2857,"color":"#000"},{"offset":0.3071,"color":"#000"},{"offset":0.3071,"color":"transparent"},{"offset":0.3571,"color":"transparent"},
{"offset":0.3571,"color":"#000"},{"offset":0.3785,"color":"#000"},{"offset":0.3785,"color":"transparent"},{"offset":0.4286,"color":"transparent"},
{"offset":0.4286,"color":"#000"},{"offset":0.45,"color":"#000"},{"offset":0.45,"color":"transparent"},{"offset":0.5,"color":"transparent"},
{"offset":0.5,"color":"#000"},{"offset":0.5214,"color":"#000"},{"offset":0.5214,"color":"transparent"},{"offset":0.5714,"color":"transparent"},
{"offset":0.5714,"color":"#000"},{"offset":0.5928,"color":"#000"},{"offset":0.5928,"color":"transparent"},{"offset":0.6429,"color":"transparent"},
{"offset":0.6429,"color":"#000"},{"offset":0.6643,"color":"#000"},{"offset":0.6643,"color":"transparent"},{"offset":0.7143,"color":"transparent"},
{"offset":0.7143,"color":"#000"},{"offset":0.7357,"color":"#000"},{"offset":0.7357,"color":"transparent"},{"offset":0.7857,"color":"transparent"},
{"offset":0.7857,"color":"#000"},{"offset":0.8071,"color":"#000"},{"offset":0.8071,"color":"transparent"},{"offset":0.8571,"color":"transparent"},
{"offset":0.8571,"color":"#000"},{"offset":0.8785,"color":"#000"},{"offset":0.8785,"color":"transparent"},{"offset":0.9286,"color":"transparent"},
{"offset":0.9286,"color":"#000"},{"offset":0.95,"color":"#000"},{"offset":0.95,"color":"transparent"},{"offset":1,"color":"transparent"}]}}},
{"transform": [{"filter": "datum.congener === 'BDE28' && datum.sample === 'Sediment'"}],
 "mark": {"type": "bar", "fill": {"gradient": "linear", "x1": 0, "y1": 0, "x2": 0, "y2": 1, "stops": [
{"offset":0,"color":"#000"},{"offset":0.0375,"color":"#000"},{"offset":0.0375,"color":"transparent"},{"offset":0.125,"color":"transparent"},
{"offset":0.125,"color":"#000"},{"offset":0.1625,"color":"#000"},{"offset":0.1625,"color":"transparent"},{"offset":0.25,"color":"transparent"},
{"offset":0.25,"color":"#000"},{"offset":0.2875,"color":"#000"},{"offset":0.2875,"color":"transparent"},{"offset":0.375,"color":"transparent"},
{"offset":0.375,"color":"#000"},{"offset":0.4125,"color":"#000"},{"offset":0.4125,"color":"transparent"},{"offset":0.5,"color":"transparent"},
{"offset":0.5,"color":"#000"},{"offset":0.5375,"color":"#000"},{"offset":0.5375,"color":"transparent"},{"offset":0.625,"color":"transparent"},
{"offset":0.625,"color":"#000"},{"offset":0.6625,"color":"#000"},{"offset":0.6625,"color":"transparent"},{"offset":0.75,"color":"transparent"},
{"offset":0.75,"color":"#000"},{"offset":0.7875,"color":"#000"},{"offset":0.7875,"color":"transparent"},{"offset":0.875,"color":"transparent"},
{"offset":0.875,"color":"#000"},{"offset":0.9125,"color":"#000"},{"offset":0.9125,"color":"transparent"},{"offset":1,"color":"transparent"}]}}},
{"transform": [{"filter": "datum.value > 0"}],
 "mark": {"type": "bar", "fillOpacity": 0, "stroke": "#000"},
 "encoding": {"strokeWidth": {"condition": {"test": "datum.congener === 'BDE154' || datum.congener === 'BDE209'", "value": 2.5}, "value": 1}}}
]
},
{
"width": 14,
"height": 448,
"data": {"name": "cong"},
"encoding": {"y": {"field": "congener", "type": "nominal", "sort": ["BDE28","BDE47","BDE99","BDE100","BDE153","BDE154","BDE183","BDE209"], "scale": {"type": "point", "padding": 0.72}, "axis": null}},
"layer": [
{"transform": [{"filter": "datum.congener === 'BDE28'"}],
 "mark": {"type": "square", "size": 90, "opacity": 1, "stroke": "#000", "strokeWidth": 1, "fill": {"gradient": "linear", "x1": 0, "y1": 0, "x2": 1, "y2": 0, "stops": [
{"offset":0,"color":"#fff"},{"offset":0.22,"color":"#fff"},{"offset":0.22,"color":"#000"},{"offset":0.34,"color":"#000"},{"offset":0.34,"color":"#fff"},
{"offset":0.44,"color":"#fff"},{"offset":0.44,"color":"#000"},{"offset":0.56,"color":"#000"},{"offset":0.56,"color":"#fff"},
{"offset":0.66,"color":"#fff"},{"offset":0.66,"color":"#000"},{"offset":0.78,"color":"#000"},{"offset":0.78,"color":"#fff"},{"offset":1,"color":"#fff"}]}}},
{"transform": [{"filter": "datum.congener === 'BDE28'"}],
 "mark": {"type": "square", "size": 90, "opacity": 1, "fill": {"gradient": "linear", "x1": 0, "y1": 0, "x2": 0, "y2": 1, "stops": [
{"offset":0,"color":"transparent"},{"offset":0.22,"color":"transparent"},{"offset":0.22,"color":"#000"},{"offset":0.34,"color":"#000"},{"offset":0.34,"color":"transparent"},
{"offset":0.44,"color":"transparent"},{"offset":0.44,"color":"#000"},{"offset":0.56,"color":"#000"},{"offset":0.56,"color":"transparent"},
{"offset":0.66,"color":"transparent"},{"offset":0.66,"color":"#000"},{"offset":0.78,"color":"#000"},{"offset":0.78,"color":"transparent"},{"offset":1,"color":"transparent"}]}}},
{"transform": [{"filter": "datum.congener === 'BDE47'"}],
 "mark": {"type": "square", "size": 90, "opacity": 1, "stroke": "#000", "strokeWidth": 1, "fill": {"gradient": "linear", "x1": 0, "y1": 0, "x2": 1, "y2": 1, "stops": [
{"offset":0,"color":"#000"},{"offset":0.35,"color":"#000"},{"offset":0.35,"color":"#fff"},{"offset":0.65,"color":"#fff"},{"offset":0.65,"color":"#000"},{"offset":1,"color":"#000"}]}}},
{"transform": [{"filter": "datum.congener === 'BDE99'"}],
 "mark": {"type": "square", "size": 90, "opacity": 1, "stroke": "#000", "strokeWidth": 1, "fill": {"gradient": "linear", "x1": 1, "y1": 0, "x2": 0, "y2": 1, "stops": [
{"offset":0,"color":"#fff"},{"offset":0.3,"color":"#fff"},{"offset":0.3,"color":"#333"},{"offset":0.4,"color":"#333"},{"offset":0.4,"color":"#fff"},
{"offset":0.6,"color":"#fff"},{"offset":0.6,"color":"#333"},{"offset":0.7,"color":"#333"},{"offset":0.7,"color":"#fff"},{"offset":1,"color":"#fff"}]}}},
{"transform": [{"filter": "datum.congener === 'BDE100'"}],
 "mark": {"type": "square", "size": 90, "opacity": 1, "stroke": "#000", "strokeWidth": 1, "fill": {"gradient": "linear", "x1": 0, "y1": 0, "x2": 1, "y2": 1, "stops": [
{"offset":0,"color":"#fff"},{"offset":0.2,"color":"#fff"},{"offset":0.2,"color":"#000"},{"offset":0.4,"color":"#000"},{"offset":0.4,"color":"#fff"},
{"offset":0.6,"color":"#fff"},{"offset":0.6,"color":"#000"},{"offset":0.8,"color":"#000"},{"offset":0.8,"color":"#fff"},{"offset":1,"color":"#fff"}]}}},
{"transform": [{"filter": "datum.congener === 'BDE153'"}],
 "mark": {"type": "square", "size": 90, "opacity": 1, "stroke": "#000", "strokeWidth": 1, "fill": "#3a3a3a"}},
{"transform": [{"filter": "datum.congener === 'BDE154'"}],
 "mark": {"type": "square", "size": 90, "opacity": 1, "stroke": "#000", "strokeWidth": 2, "fill": {"gradient": "linear", "x1": 0, "y1": 0, "x2": 0, "y2": 1, "stops": [
{"offset":0,"color":"#fff"},{"offset":0.42,"color":"#fff"},{"offset":0.42,"color":"#000"},{"offset":0.58,"color":"#000"},{"offset":0.58,"color":"#fff"},{"offset":1,"color":"#fff"}]}}},
{"transform": [{"filter": "datum.congener === 'BDE183'"}],
 "mark": {"type": "square", "size": 90, "opacity": 1, "stroke": "#000", "strokeWidth": 1.5, "fill": {"gradient": "linear", "x1": 0, "y1": 0, "x2": 0, "y2": 1, "stops": [
{"offset":0,"color":"#000"},{"offset":0.2,"color":"#000"},{"offset":0.2,"color":"#fff"},{"offset":0.4,"color":"#fff"},{"offset":0.4,"color":"#000"},
{"offset":0.6,"color":"#000"},{"offset":0.6,"color":"#fff"},{"offset":0.8,"color":"#fff"},{"offset":0.8,"color":"#000"},{"offset":1,"color":"#000"}]}}},
{"transform": [{"filter": "datum.congener === 'BDE209'"}],
 "mark": {"type": "square", "size": 90, "opacity": 1, "stroke": "#000", "strokeWidth": 1.5, "fill": {"gradient": "linear", "x1": 0, "y1": 0, "x2": 1, "y2": 0, "stops": [
{"offset":0,"color":"#000"},{"offset":0.2,"color":"#000"},{"offset":0.2,"color":"#fff"},{"offset":0.33,"color":"#fff"},{"offset":0.33,"color":"#000"},
{"offset":0.47,"color":"#000"},{"offset":0.47,"color":"#fff"},{"offset":0.6,"color":"#fff"},{"offset":0.6,"color":"#000"},
{"offset":0.73,"color":"#000"},{"offset":0.73,"color":"#fff"},{"offset":0.85,"color":"#fff"},{"offset":0.85,"color":"#000"},{"offset":1,"color":"#000"}]}}},
{"mark": {"type": "text", "align": "left", "baseline": "middle", "dx": 7, "dy": 1, "font": "Times New Roman, Liberation Serif, Times, serif", "fontSize": 24, "color": "#222"},
 "encoding": {"text": {"field": "congener"}}}
]
}
],
"config": {"view": {"stroke": null}, "font": "Times New Roman, Liberation Serif, Times, serif"}
}
